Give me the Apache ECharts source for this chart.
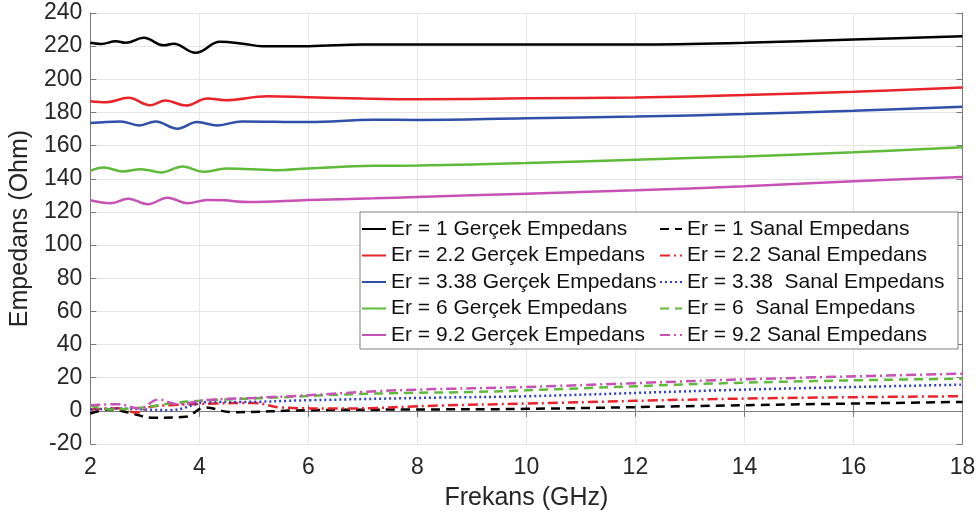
<!DOCTYPE html>
<html lang="tr">
<head>
    <meta charset="UTF-8">
    <title>Empedans</title>
    <script src="https://cdn.jsdelivr.net/npm/echarts@6/dist/echarts.min.js"></script>
</head>
<body style="margin:0">
<div id="chart" style="width: 979px; height: 519px;"></div>
<script>
  // gerçek empedans (frekans, değer)
  var fReal1 = [2, 2.2, 2.47, 2.65, 2.98, 3.35, 3.53, 3.93, 4.38, 4.8, 5.15, 6, 7, 8, 10, 12, 14, 16, 18];
  var zReal1 = [222, 221.3, 223, 222, 225, 220.5, 221.5, 216, 222.6, 221.5, 220, 220, 221, 221, 221, 221, 222, 224, 226];
  var fReal2 = [2, 2.3, 2.7, 3.1, 3.38, 3.75, 4.15, 4.47, 5.25, 6, 7, 8, 10, 12, 14, 16, 18];
  var zReal2 = [186.8, 186.2, 188.8, 184.4, 187.2, 184.2, 188.4, 187.4, 189.8, 189.2, 188.4, 188, 188.5, 189, 190.5, 192.5, 195];
  var fReal3 = [2, 2.55, 2.9, 3.2, 3.6, 3.96, 4.33, 4.78, 6, 7.2, 8, 10, 12, 14, 16, 18];
  var zReal3 = [173.6, 174.6, 172.2, 174.6, 170.2, 174.2, 172.2, 174.6, 174.2, 175.6, 175.5, 176.5, 177.5, 179, 181, 183.5];
  var fReal4 = [2, 2.25, 2.6, 2.93, 3.3, 3.7, 4.07, 4.5, 5.4, 6, 7.2, 8, 10, 12, 14, 16, 18];
  var zReal4 = [144.8, 146.8, 144.4, 145.8, 143.8, 147.4, 144.2, 146.2, 145.2, 146.2, 147.8, 148, 149.5, 151.5, 153.5, 156, 159];
  var fReal5 = [2, 2.38, 2.7, 3.05, 3.42, 3.78, 4.15, 4.45, 4.9, 6, 7.2, 8, 10, 12, 14, 16, 18];
  var zReal5 = [127, 125.2, 128, 124.6, 128.6, 125.2, 127.2, 127, 126, 127.2, 128.2, 129, 131, 133, 135.5, 138.5, 141];

  // sanal empedans
  var fImag1 = [2, 2.35, 2.7, 3.15, 3.75, 4.1, 4.6, 6, 7.8, 10, 14, 18];
  var zImag1 = [-1.6, 0.8, -1, -4.2, -3.6, 2, -0.8, 0.4, 0.8, 1.2, 3.4, 5.4];
  var fImag2 = [2, 2.5, 2.85, 3.1, 3.45, 4.3, 5.0, 5.5, 6.6, 8.4, 10, 14, 18];
  var zImag2 = [0.8, 1.5, -1, 2.4, 3.4, 4.4, 4.8, 2, 1.4, 3.2, 4.4, 7.4, 8.8];
  var fImag3 = [2, 2.5, 3.45, 4.2, 4.75, 6, 8.4, 10, 14, 18];
  var zImag3 = [0.8, 1.4, 0.4, 5.4, 5.4, 6.4, 8, 8.8, 12.8, 15.8];
  var fImag4 = [2, 2.35, 2.95, 3.55, 4.2, 5.4, 6.6, 7.8, 9.05, 10, 14, 18];
  var zImag4 = [3.4, 0.8, 2, 4.8, 6.4, 8, 9.8, 10.8, 11.4, 12.4, 17, 19.4];
  var fImag5 = [2, 2.5, 2.9, 3.25, 3.6, 4.1, 5, 6, 7, 8, 10, 14, 18];
  var zImag5 = [3.4, 4, 1.4, 6.8, 4, 6.4, 7.8, 9.4, 11.4, 12.8, 14.4, 19, 22.4];

  var realNames = ['Er = 1 Gerçek Empedans', 'Er = 2.2 Gerçek Empedans', 'Er = 3.38 Gerçek Empedans',
    'Er = 6 Gerçek Empedans', 'Er = 9.2 Gerçek Empedans'];
  var imagNames = ['Er = 1 Sanal Empedans', 'Er = 2.2 Sanal Empedans', 'Er = 3.38  Sanal Empedans',
    'Er = 6  Sanal Empedans', 'Er = 9.2 Sanal Empedans'];

  var colors = ['#000000', '#e8232a', '#2f4fa8', '#5fba3a', '#c652b5'];
  var dotColor = '#2a3fd0';
  var dashed = [9, 6];
  var dashDot = [10, 4, 2, 4];
  var dotted = [2, 3];

  function pairs(xs, ys) {
    var out = [];
    for (var i = 0; i < xs.length; i++) out.push([xs[i], ys[i]]);
    return out;
  }

  function line(name, xs, ys, color, type) {
    return {
      name: name,
      type: 'line',
      data: pairs(xs, ys),
      smooth: 0.4,
      symbol: 'none',
      lineStyle: {color: color, width: 2.5, type: type || 'solid'},
      itemStyle: {color: color}
    };
  }

  var font = "'Liberation Sans', Arial, sans-serif";
  var axisGray = '#7a7a7a';

  var chart = echarts.init(document.getElementById('chart'));
  chart.setOption({
    animation: false,
    textStyle: {fontFamily: font},
    grid: {left: 83.5, right: 16.5, top: 13, bottom: 75},
    graphic: [{
      type: 'rect',
      z: 3,
      shape: {x: 360, y: 212, width: 598, height: 137},
      style: {fill: '#ffffff', stroke: '#808080', lineWidth: 1}
    }],
    legend: [{
      orient: 'vertical',
      left: 361, top: 218.5,
      padding: 0, itemGap: 5.5,
      itemWidth: 24, itemHeight: 14,
      itemStyle: {opacity: 0},
      textStyle: {fontSize: 21, color: '#111', fontFamily: font},
      data: realNames
    }, {
      orient: 'vertical',
      left: 659, top: 218.5,
      padding: 0, itemGap: 5.5,
      itemWidth: 22, itemHeight: 14,
      itemStyle: {opacity: 0},
      textStyle: {fontSize: 21, color: '#111', fontFamily: font},
      data: imagNames
    }],
    xAxis: [{
      type: 'value', min: 2, max: 18, interval: 2,
      name: 'Frekans (GHz)', nameLocation: 'middle', nameGap: 42,
      nameTextStyle: {fontSize: 25, color: '#262626'},
      axisLine: {lineStyle: {color: axisGray}},
      axisTick: {inside: true, length: 6, lineStyle: {color: axisGray}},
      axisLabel: {fontSize: 23, color: '#262626', margin: 12},
      splitLine: {show: true, lineStyle: {color: '#e6e6e6'}}
    }, {
      type: 'value', min: 2, max: 18, interval: 2, position: 'top',
      axisLine: {show: true, lineStyle: {color: axisGray}},
      axisTick: {show: true, inside: true, length: 6, lineStyle: {color: axisGray}},
      axisLabel: {show: false},
      splitLine: {show: false}
    }],
    yAxis: [{
      type: 'value', min: -20, max: 240, interval: 20,
      name: 'Empedans (Ohm)', nameLocation: 'middle', nameGap: 53,
      nameTextStyle: {fontSize: 25, color: '#262626'},
      axisLine: {show: true, lineStyle: {color: axisGray}},
      axisTick: {show: true, inside: true, length: 6, lineStyle: {color: axisGray}},
      axisLabel: {fontSize: 23, color: '#262626', margin: 8},
      splitLine: {show: true, lineStyle: {color: '#e6e6e6'}}
    }, {
      type: 'value', min: -20, max: 240, interval: 20, position: 'right',
      axisLine: {show: true, lineStyle: {color: axisGray}},
      axisTick: {show: true, inside: true, length: 6, lineStyle: {color: axisGray}},
      axisLabel: {show: false},
      splitLine: {show: false}
    }],
    series: [
      line(realNames[0], fReal1, zReal1, colors[0]),
      line(realNames[1], fReal2, zReal2, colors[1]),
      line(realNames[2], fReal3, zReal3, colors[2]),
      line(realNames[3], fReal4, zReal4, colors[3]),
      line(realNames[4], fReal5, zReal5, colors[4]),
      line(imagNames[0], fImag1, zImag1, colors[0], dashed),
      line(imagNames[1], fImag2, zImag2, colors[1], dashDot),
      line(imagNames[2], fImag3, zImag3, dotColor, dotted),
      line(imagNames[3], fImag4, zImag4, colors[3], dashed),
      line(imagNames[4], fImag5, zImag5, colors[4], dashDot)
    ]
  });
</script>
</body>
</html>
